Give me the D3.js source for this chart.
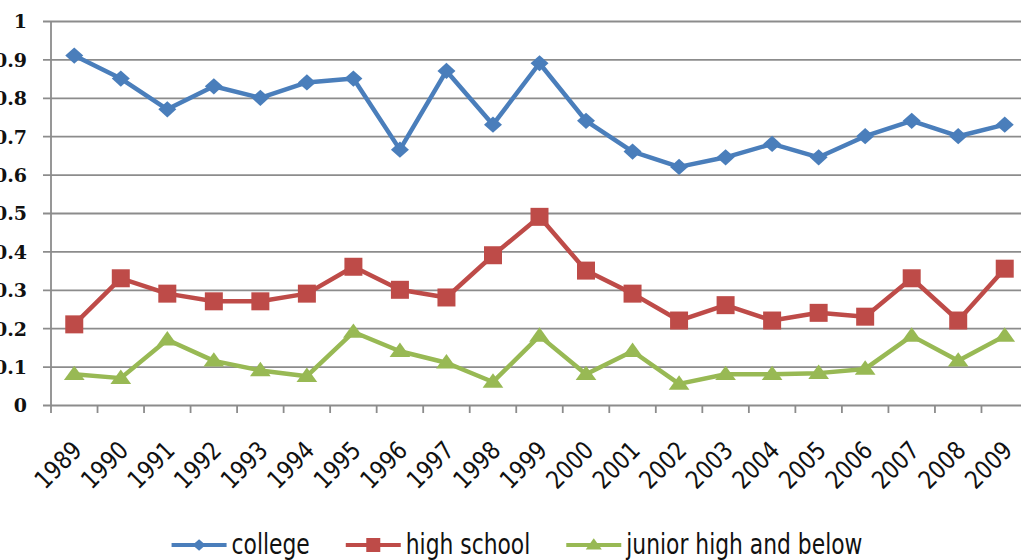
<!DOCTYPE html>
<html>
<head>
<meta charset="utf-8">
<script src="https://cdn.jsdelivr.net/npm/d3@7"></script>
<style>
  body { margin: 0; background: #fff; }
  svg { display: block; }
  .sans { font-family: 'Liberation Sans Narrow', 'DejaVu Sans', sans-serif; }
</style>
</head>
<body>
<div id="chart"></div>
<script>
// data
var years = ["1989","1990","1991","1992","1993","1994","1995","1996","1997","1998","1999",
             "2000","2001","2002","2003","2004","2005","2006","2007","2008","2009"];
var college = [0.91,0.85,0.77,0.83,0.80,0.84,0.85,0.665,0.87,0.73,0.89,
               0.74,0.66,0.62,0.645,0.68,0.645,0.70,0.74,0.70,0.73];
var highSchool = [0.21,0.33,0.29,0.27,0.27,0.29,0.36,0.30,0.28,0.39,0.49,
                  0.35,0.29,0.22,0.26,0.22,0.24,0.23,0.33,0.22,0.355];
var juniorHigh = [0.08,0.07,0.17,0.115,0.09,0.075,0.19,0.14,0.11,0.06,0.18,
                  0.08,0.14,0.055,0.08,0.08,0.083,0.094,0.18,0.115,0.18];
var yTicks = [0,0.1,0.2,0.3,0.4,0.5,0.6,0.7,0.8,0.9,1];

var seriesNames = ["college", "high school", "junior high and below"];
var seriesColors = ["#4a7ebb", "#be4b48", "#98b954"];
var seriesShapes = ["diamond", "square", "triangle"];

var W = 1021, H = 560;
var plotL = 51, plotR = 1028, plotT = 21, plotB = 405;
var narrow = 0.85;     // squeeze the sans text, the reference font is condensed
var legNarrow = 0.78;

var svg = d3.select("#chart").append("svg")
  .attr("width", W)
  .attr("height", H);

var x = d3.scaleBand().domain(years).range([plotL, plotR]);
var y = d3.scaleLinear().domain([0, 1]).range([plotB, plotT]);
var cx = function(d){ return x(d) + x.bandwidth() / 2; };

// gridlines + y labels
var yAxis = d3.axisLeft(y)
  .tickValues(yTicks)
  .tickSize(-(plotR - plotL))
  .tickFormat(function(d){ return d === 0 || d === 1 ? d3.format("d")(d) : d3.format(".1f")(d); });

var gy = svg.append("g")
  .attr("transform", "translate(" + plotL + ",0)")
  .call(yAxis);
gy.select(".domain").remove();
gy.selectAll(".tick line")
  .attr("x1", -8)
  .attr("stroke", "#8c8c8c")
  .attr("stroke-width", 1.8);
gy.selectAll(".tick text")
  .attr("x", -24)
  .attr("dy", "0.36em")
  .attr("fill", "#111")
  .style("font-family", "'DejaVu Serif', 'Liberation Serif', serif")
  .style("font-size", "19px")
  .style("font-weight", "bold");

// left axis line
svg.append("line")
  .attr("x1", plotL).attr("x2", plotL)
  .attr("y1", plotT).attr("y2", plotB)
  .attr("stroke", "#8c8c8c")
  .attr("stroke-width", 1.8);

// x axis: ticks between categories
var boundaries = years.map(function(d){ return x(d); });
svg.append("g").selectAll("line")
  .data(boundaries)
  .enter().append("line")
  .attr("x1", function(d){ return d; })
  .attr("x2", function(d){ return d; })
  .attr("y1", plotB)
  .attr("y2", plotB + 8)
  .attr("stroke", "#8c8c8c")
  .attr("stroke-width", 1.8);

svg.append("g").selectAll("text")
  .data(years)
  .enter().append("text")
  .attr("class", "sans")
  .attr("transform", function(d){
    return "translate(" + (cx(d) + 9) + "," + (plotB + 47) + ") rotate(-45) scale(" + narrow + ",1)";
  })
  .attr("text-anchor", "end")
  .attr("fill", "#111")
  .style("font-size", "25px")
  .text(function(d){ return d; });

// marker shapes
function markerPath(shape, s) {
  if (shape === "diamond") return "M0," + (-s*0.9) + "L" + s + ",0L0," + (s*0.9) + "L" + (-s) + ",0Z";
  if (shape === "square") return "M" + (-s) + "," + (-s) + "h" + (2*s) + "v" + (2*s) + "h" + (-2*s) + "Z";
  var h = s * 1.6;
  return "M0," + (-h*0.6) + "L" + (s*1.15) + "," + (h*0.4) + "L" + (-s*1.15) + "," + (h*0.4) + "Z";
}
var markerSize = [9, 9, 9];

var allSeries = [college, highSchool, juniorHigh];
var line = d3.line()
  .x(function(d, i){ return cx(years[i]); })
  .y(function(d){ return y(d); });

allSeries.forEach(function(vals, k){
  var g = svg.append("g");
  g.append("path")
    .datum(vals)
    .attr("d", line)
    .attr("fill", "none")
    .attr("stroke", seriesColors[k])
    .attr("stroke-width", 4.5)
    .attr("stroke-linejoin", "round");
  g.selectAll("path.m")
    .data(vals)
    .enter().append("path")
    .attr("class", "m")
    .attr("transform", function(d, i){ return "translate(" + cx(years[i]) + "," + y(d) + ")"; })
    .attr("d", markerPath(seriesShapes[k], markerSize[k]))
    .attr("fill", seriesColors[k]);
});

// legend
var legend = svg.append("g");
var lx = 0, legY = 545;
seriesNames.forEach(function(name, k){
  var it = legend.append("g");
  it.append("line")
    .attr("x1", 0).attr("x2", 55)
    .attr("y1", 0).attr("y2", 0)
    .attr("stroke", seriesColors[k])
    .attr("stroke-width", 4);
  it.append("path")
    .attr("transform", "translate(27.5,0)")
    .attr("d", markerPath(seriesShapes[k], k === 0 ? 6.5 : 7))
    .attr("fill", seriesColors[k]);
  var t = it.append("text")
    .attr("class", "sans")
    .attr("transform", "translate(60,9) scale(" + legNarrow + ",1)")
    .attr("fill", "#111")
    .style("font-size", "28px")
    .text(name);
  it.attr("transform", "translate(" + lx + "," + legY + ")");
  lx += 60 + t.node().getComputedTextLength() * legNarrow + 36;
});
var legendW = lx - 36;
legend.attr("transform", "translate(" + (517 - legendW / 2) + ",0)");
</script>
</body>
</html>
